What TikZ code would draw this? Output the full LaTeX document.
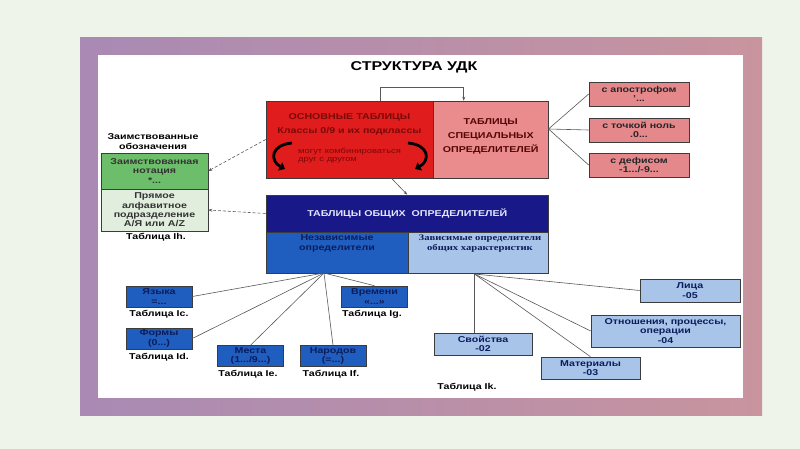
\documentclass[tikz,border=0pt]{standalone}
\usepackage{fontspec}
\setmainfont{Liberation Sans}[FakeStretch=1.25]
\newfontfamily\serifbf{Liberation Serif}[FakeStretch=1.25]
\usetikzlibrary{arrows.meta}
\definecolor{fon}{HTML}{EEF4EA}
\definecolor{ramkaA}{HTML}{A98AB4}
\definecolor{ramkaB}{HTML}{C8949E}
\definecolor{obvod}{HTML}{3C3C3C}
\definecolor{krasn}{HTML}{E01C1C}
\definecolor{tkrasn}{HTML}{7A0808}
\definecolor{rozov}{HTML}{EA8C8E}
\definecolor{rozovm}{HTML}{E4888C}
\definecolor{zelen}{HTML}{6CBE6A}
\definecolor{zelensv}{HTML}{E1EEDD}
\definecolor{tsin}{HTML}{181888}
\definecolor{ssin}{HTML}{1F5EBE}
\definecolor{gsin}{HTML}{A8C4E8}
\definecolor{tnavy}{HTML}{0C1C5C}
\begin{document}
\begin{tikzpicture}[x=1pt,y=-1pt,
  every node/.style={font=\bfseries\fontsize{8.5}{9.3}\selectfont,align=center,inner sep=0pt},
  box/.style={draw=obvod,line width=.6pt},
  sinbox/.style={box,fill=ssin,text=tnavy,minimum width=66pt,minimum height=21pt},
  golbox/.style={box,fill=gsin,text=tnavy},
  rozbox/.style={box,fill=rozovm,text=black!85,minimum width=100pt,minimum height=24pt},
  svaz/.style={draw=obvod!85,line width=.6pt},
  punkt/.style={svaz,densely dashed,-{Stealth[length=4pt]}},
  krug/.style={line width=2.8pt,-{Triangle[length=5.5pt,width=9pt]}}]
\useasboundingbox (0,0) rectangle (800,449);
\fill[fon] (0,0) rectangle (800,449);
\shade[left color=ramkaA,right color=ramkaB] (80,38) rectangle (762,415);
\fill[white] (98,55) rectangle (743,398);
\node[font=\bfseries\fontsize{12.8}{15}\selectfont] (zag) at (414,67) {СТРУКТУРА УДК};
\node[box,fill=krasn,minimum width=167pt,minimum height=77pt] (osn) at (349.5,139.5) {};
\node[box,fill=rozov,minimum width=115.5pt,minimum height=77pt] (spec) at (490.75,139.5) {};
\node[text=tkrasn!70!black,font=\bfseries\fontsize{8.5}{14}\selectfont] (spect) at (490.75,136.5) {ТАБЛИЦЫ\\СПЕЦИАЛЬНЫХ\\ОПРЕДЕЛИТЕЛЕЙ};
\node[text=tkrasn,font=\bfseries\fontsize{8.5}{14}\selectfont] (osnt) at (349.5,124.5) {ОСНОВНЫЕ ТАБЛИЦЫ\\Классы 0/9 и их подклассы};
\node[text=tkrasn,font=\fontsize{7.5}{7.5}\selectfont,align=left,anchor=west] (komb) at (298,155.5) {могут комбинироваться\\друг с другом};
\draw[krug] (292,143) .. controls (270,145) and (270,161) .. (285,169);
\draw[krug] (408,143) .. controls (430,145) and (430,161) .. (415,169);
\node[rozbox] (apos) at (639,94) {с апострофом\\'...};
\node[rozbox] (nol) at (639,130) {с точкой ноль\\.0...};
\node[rozbox] (def) at (639,165) {с дефисом\\-1.../-9...};
\node (zaim) at (153,141.5) {Заимствованные\\обозначения};
\node[box,fill=zelen,text=black!80,minimum width=107pt,minimum height=36pt] (notac) at (154.5,171) {Заимствованная\\нотация\\*...};
\node[box,fill=zelensv,text=black!80,minimum width=107pt,minimum height=42pt] (alf) at (154.5,210) {Прямое\\алфавитное\\подразделение\\А/Я или A/Z};
\node (tih) at (156,237) {Таблица Ih.};
\node[box,fill=tsin,text=white!90!blue,minimum width=282.5pt,minimum height=37pt] (obsh) at (407.25,213.5) {ТАБЛИЦЫ ОБЩИХ\ \ ОПРЕДЕЛИТЕЛЕЙ};
\node[box,fill=ssin,minimum width=142pt,minimum height=41pt] (nez) at (337,252.5) {};
\node[box,fill=gsin,minimum width=140.5pt,minimum height=41pt] (zav) at (478.25,252.5) {};
\node[text=tnavy] (nezt) at (337,243.5) {Независимые\\определители};
\node[text=tnavy,font=\serifbf\bfseries\fontsize{8.5}{9.3}\selectfont] (zavt) at (480,243.5) {Зависимые определители\\общих характеристик};
\node[sinbox] (yaz) at (159,296.5) {Языка\\=...};
\node[sinbox] (form) at (159,338.5) {Формы\\(0...)};
\node[sinbox] (mest) at (250.5,356) {Места\\(1.../9...)};
\node[sinbox] (nar) at (333,356) {Народов\\(=...)};
\node[sinbox] (vrem) at (374.5,296.5) {Времени\\«...»};
\node (tic) at (159,314) {Таблица Ic.};
\node (tid) at (159,357) {Таблица Id.};
\node (tie) at (248,374) {Таблица Ie.};
\node (tif) at (331,374) {Таблица If.};
\node (tig) at (372,314) {Таблица Ig.};
\node[golbox,minimum width=98pt,minimum height=22pt] (svo) at (483,344) {Свойства\\-02};
\node[golbox,minimum width=99pt,minimum height=22pt] (mat) at (590.5,368) {Материалы\\-03};
\node[golbox,minimum width=149pt,minimum height=32pt] (otn) at (665.5,331) {Отношения, процессы,\\операции\\-04};
\node[golbox,minimum width=100pt,minimum height=23pt] (lic) at (690,290.5) {Лица\\-05};
\node (tik) at (467,387) {Таблица Ik.};
\coordinate (hubL) at (324,273);
\coordinate (hubR) at (474.5,274);
\coordinate (hubS) at (548.5,129);
\foreach \k in {yaz,form} \draw[svaz] (hubL) -- (\k.east);
\foreach \k in {mest,nar,vrem} \draw[svaz] (hubL) -- (\k.north);
\draw[svaz] (hubR) -- (hubR |- svo.north);
\foreach \k in {otn,lic} \draw[svaz] (hubR) -- (\k.west);
\draw[svaz] (hubR) -- (mat.north);
\foreach \k in {apos,nol,def} \draw[svaz] (hubS) -- (\k.west);
\draw[punkt] (osn.west) -- (notac.east);
\draw[punkt] (obsh.west) -- (alf.east);
\draw[svaz,-{Stealth[length=4pt]}] ([xshift=42pt]osn.south) -- (obsh.north);
\draw[svaz,-{Stealth[length=4pt]}] ([xshift=31pt]osn.north) |- ([xshift=-27pt,yshift=13pt]spec.north) -- ([xshift=-27pt]spec.north);
\end{tikzpicture}
\end{document}
